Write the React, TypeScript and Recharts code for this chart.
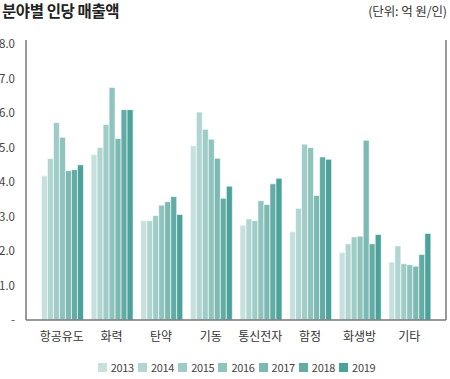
import { BarChart, Bar, XAxis, YAxis, Legend } from 'recharts';

const categories = ['항공유도', '화력', '탄약', '기동', '통신전자', '함정', '화생방', '기타'];
const years = ['2013', '2014', '2015', '2016', '2017', '2018', '2019'];

const v2013 = [4.18, 4.8, 2.88, 5.05, 2.75, 2.56, 1.96, 1.68];
const v2014 = [4.68, 5.0, 2.88, 6.03, 2.93, 3.24, 2.21, 2.15];
const v2015 = [5.73, 5.67, 3.03, 5.53, 2.88, 5.1, 2.41, 1.63];
const v2016 = [5.3, 6.74, 3.33, 5.24, 3.46, 5.0, 2.43, 1.6];
const v2017 = [4.33, 5.26, 3.43, 4.69, 3.35, 3.61, 5.21, 1.56];
const v2018 = [4.36, 6.1, 3.58, 3.53, 3.95, 4.73, 2.21, 1.9];
const v2019 = [4.5, 6.1, 3.06, 3.88, 4.11, 4.66, 2.48, 2.51];

const yTicks = [0, 1, 2, 3, 4, 5, 6, 7, 8];

const colors = ['#c6e1dd', '#b1d6d2', '#a0ccc7', '#8fc3bd', '#7cb9b2', '#62aca4', '#4aa29a'];

const series = [v2013, v2014, v2015, v2016, v2017, v2018, v2019];

const data = categories.map((name, i) => {
  const row: Record<string, string | number> = { name };
  years.forEach((y, k) => {
    row[y] = series[k][i];
  });
  return row;
});

const FONT = '"Noto Sans CJK KR", "Noto Sans", sans-serif';
const AXIS = '#777';

function LegendContent(props: any) {
  const payload = props.payload || [];
  return (
    <div style={{ display: 'flex', justifyContent: 'center', gap: 4, fontFamily: FONT, fontSize: 11, color: '#444' }}>
      {payload.map((p: any) => (
        <div key={p.value} style={{ display: 'flex', alignItems: 'center' }}>
          <span style={{ display: 'inline-block', width: 9, height: 9, background: p.color, marginRight: 4 }} />
          <span style={{ letterSpacing: -0.3 }}>{p.value}</span>
        </div>
      ))}
    </div>
  );
}

export default function App() {
  return (
    <div style={{ position: 'absolute', left: 0, top: 0, width: 450, height: 379, background: '#fff', fontFamily: FONT }}>
      <div style={{ position: 'absolute', left: 2, top: -1, fontSize: 15.5, fontWeight: 700, color: '#222', letterSpacing: -0.4 }}>
        분야별 인당 매출액
      </div>
      <div style={{ position: 'absolute', right: 3, top: 1, fontSize: 12.5, color: '#333', letterSpacing: -0.1 }}>
        (단위: 억 원/인)
      </div>
      <BarChart
        width={450}
        height={379}
        data={data}
        margin={{ top: 40, right: 3, bottom: 4, left: 0 }}
        barCategoryGap="9%"
        barGap={0}
      >
        <XAxis
          dataKey="name"
          padding={{ left: 11, right: 12 }}
          axisLine={{ stroke: AXIS, strokeWidth: 1.5 }}
          tickLine={false}
          tickMargin={6}
          height={30}
          tick={{ fontSize: 12, fill: '#333', fontFamily: FONT }}
          interval={0}
        />
        <YAxis
          yAxisId="left"
          width={26}
          domain={[0, 8.12]}
          ticks={yTicks}
          axisLine={{ stroke: AXIS, strokeWidth: 1.5 }}
          tickLine={false}
          tickMargin={5}
          tickFormatter={(v: number) => (v === 0 ? '-' : v.toFixed(1))}
          tick={{ fontSize: 11.5, fill: '#444', fontFamily: FONT }}
        />
        <YAxis
          yAxisId="right"
          orientation="right"
          width={1}
          domain={[0, 8.12]}
          axisLine={{ stroke: AXIS, strokeWidth: 1.5 }}
          tick={false}
          tickLine={false}
        />
        <Legend
          verticalAlign="bottom"
          content={<LegendContent />}
          wrapperStyle={{ paddingTop: 9, left: 26, width: 421 }}
        />
        {years.map((y, k) => (
          <Bar
            key={y}
            yAxisId="left"
            dataKey={y}
            fill={colors[k]}
            stroke="#fff"
            strokeWidth={0.6}
            isAnimationActive={false}
          />
        ))}
      </BarChart>
    </div>
  );
}
